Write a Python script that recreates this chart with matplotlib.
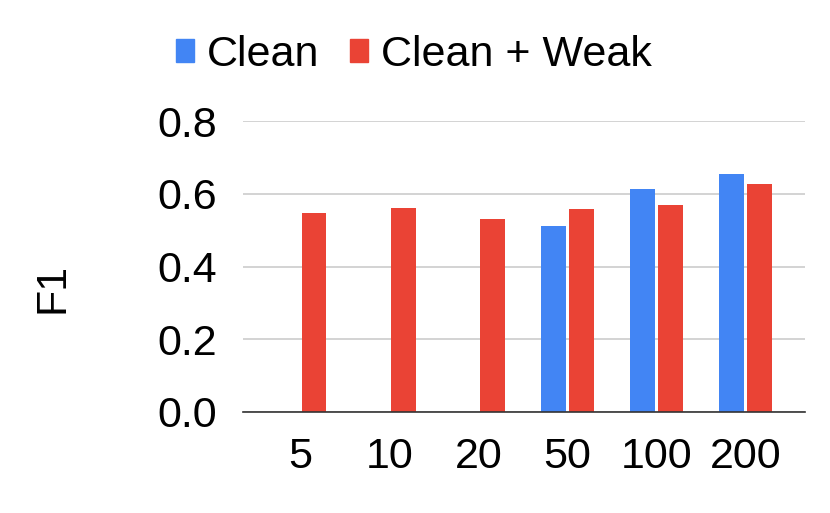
import matplotlib.pyplot as plt
import numpy as np
from matplotlib.patches import Patch

plt.rcParams['font.family'] = ['Liberation Sans', 'DejaVu Sans']

categories = ['5', '10', '20', '50', '100', '200']
clean = [np.nan, np.nan, np.nan, 0.511, 0.613, 0.654]
clean_weak = [0.548, 0.560, 0.532, 0.557, 0.569, 0.626]

blue = '#4285F4'
red = '#EA4335'

fig = plt.figure(figsize=(8.3, 5.13), dpi=100)
ax = fig.add_axes([0.293, 0.197, 0.677, 0.567])

x = np.arange(len(categories))
w = 0.28
ax.bar(x - w / 2 - 0.015, clean, w, color=blue, zorder=3)
ax.bar(x + w / 2 + 0.015, clean_weak, w, color=red, zorder=3)

ax.set_xlim(-0.64, 5.67)
ax.set_ylim(0, 0.8)
ax.set_yticks([0.0, 0.2, 0.4, 0.6, 0.8])
ax.set_yticklabels(['0.0', '0.2', '0.4', '0.6', '0.8'])
ax.set_xticks(x)
ax.set_xticklabels(categories)
ax.tick_params(axis='both', length=0, labelsize=31, colors='black')
ax.tick_params(axis='y', pad=19)
ax.tick_params(axis='x', pad=18)
ax.yaxis.grid(True, color='#cccccc', linewidth=1.2, zorder=0)
for s in ['top', 'right', 'left']:
    ax.spines[s].set_visible(False)
ax.spines['bottom'].set_color('#333333')
ax.spines['bottom'].set_linewidth(1.2)
ax.spines['bottom'].set_zorder(4)

fig.text(52 / 830, 1 - 288 / 513, 'F1', rotation=90, fontsize=31,
         ha='center', va='center')

handles = [Patch(color=blue, label='Clean'), Patch(color=red, label='Clean + Weak')]
fig.legend(handles=handles, loc='center', bbox_to_anchor=(414 / 830, 1 - 55 / 513),
           ncol=2, frameon=False, fontsize=31, handlelength=0.42,
           handleheight=0.42, handletextpad=0.3, columnspacing=0.7,
           borderpad=0, borderaxespad=0)

fig.savefig('out.png', dpi=100)
